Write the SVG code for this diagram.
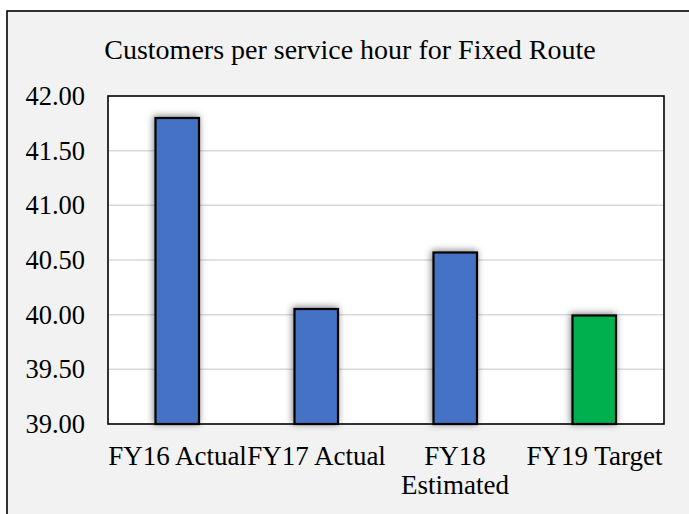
<svg xmlns="http://www.w3.org/2000/svg" width="689" height="514" viewBox="0 0 689 514">
  <style>
    .txt { font-family: "Liberation Serif", "Times New Roman", serif; fill: #000; }
    .title { font-size: 28px; }
    .ylab { font-size: 26.5px; text-anchor: end; }
    .xlab { font-size: 27px; text-anchor: middle; }
    .grid { stroke: #D9D9D9; stroke-width: 1.5; }
    .bar { stroke: #000; stroke-width: 2.2; filter: url(#shadow); }
    .blue { fill: #4472C4; }
    .green { fill: #00B050; }
  </style>
  <defs>
    <filter id="shadow" x="-40%" y="-20%" width="180%" height="140%">
      <feDropShadow dx="-1" dy="-1" stdDeviation="3.5" flood-color="#000" flood-opacity="0.5"/>
    </filter>
  </defs>

  <!-- chart frame -->
  <rect x="0" y="0" width="689" height="514" fill="#FFFFFF"/>
  <rect x="7" y="11" width="700" height="520" fill="#F2F2F2" stroke="#000" stroke-width="1.6"/>

  <text class="txt title" x="350" y="59" text-anchor="middle">Customers per service hour for Fixed Route</text>

  <!-- plot area -->
  <rect x="108" y="96" width="556" height="328" fill="#FFFFFF"/>
  <g id="gridlines">
    <line class="grid" x1="108" y1="150.7" x2="664" y2="150.7"/>
    <line class="grid" x1="108" y1="205.3" x2="664" y2="205.3"/>
    <line class="grid" x1="108" y1="260" x2="664" y2="260"/>
    <line class="grid" x1="108" y1="314.7" x2="664" y2="314.7"/>
    <line class="grid" x1="108" y1="369.3" x2="664" y2="369.3"/>
  </g>

  <!-- y axis labels -->
  <g id="y-axis">
    <text class="txt ylab" x="85" y="105">42.00</text>
    <text class="txt ylab" x="85" y="159.7">41.50</text>
    <text class="txt ylab" x="85" y="214.3">41.00</text>
    <text class="txt ylab" x="85" y="269">40.50</text>
    <text class="txt ylab" x="85" y="323.7">40.00</text>
    <text class="txt ylab" x="85" y="378.3">39.50</text>
    <text class="txt ylab" x="85" y="433">39.00</text>
  </g>

  <!-- bars -->
  <g id="bar-fy16"><rect class="bar blue" x="155.5" y="118" width="43.5" height="306"/></g>
  <g id="bar-fy17"><rect class="bar blue" x="294.5" y="309" width="43.5" height="115"/></g>
  <g id="bar-fy18"><rect class="bar blue" x="433.5" y="252.5" width="43.5" height="171.5"/></g>
  <g id="bar-fy19"><rect class="bar green" x="572.5" y="315.5" width="43.5" height="108.5"/></g>

  <!-- plot border -->
  <rect x="108" y="96" width="556" height="328" fill="none" stroke="#000" stroke-width="1.6"/>

  <!-- x axis labels -->
  <g id="x-axis">
    <text class="txt xlab" x="177.5" y="465">FY16 Actual</text>
    <text class="txt xlab" x="316.5" y="465">FY17 Actual</text>
    <text class="txt xlab" x="455" y="465">FY18</text>
    <text class="txt xlab" x="455" y="494">Estimated</text>
    <text class="txt xlab" x="594.5" y="465">FY19 Target</text>
  </g>
</svg>
